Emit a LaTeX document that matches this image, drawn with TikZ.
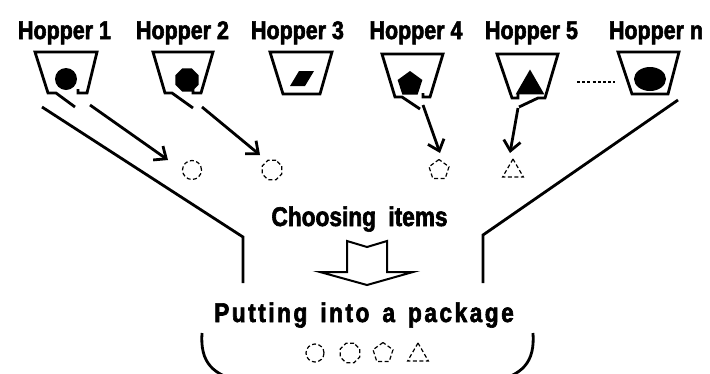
\documentclass[tikz,border=0pt]{standalone}
\usepackage{fontspec}
\newfontfamily\lblfont{Liberation Sans}[FakeStretch=0.84,FakeBold=2.2]
\usetikzlibrary{arrows.meta,shapes.geometric}
\newcommand\lsp{\kern2.5pt}

\begin{document}
\begin{tikzpicture}[x=1pt,y=-1pt,
  hopper/.style={line width=2.8pt, line join=miter},
  chute/.style={line width=2.8pt},
  feed/.style={line width=2.8pt, -{Straight Barb[length=10pt,width=17pt,line width=2.8pt]}},
  solid item/.style={fill=black, draw=none, inner sep=0pt},
  item/.style={draw, line width=1.2pt, dash pattern=on 4pt off 2.5pt, inner sep=0pt, minimum size=18pt},
  title/.style={font=\lblfont\bfseries\fontsize{25.5}{28}\selectfont, anchor=base, inner sep=0pt},
  stage/.style={font=\lblfont\bfseries\fontsize{27}{30}\selectfont, anchor=base, inner sep=0pt}]
\useasboundingbox (0,0) rectangle (710,373);

% hopper labels
\node[title] (t1) at (64.5,39) {Hopper 1};
\node[title] (t2) at (182.5,39) {Hopper 2};
\node[title] (t3) at (297.5,39) {Hopper 3};
\node[title] (t4) at (416,39) {Hopper 4};
\node[title] (t5) at (531.5,39) {Hopper 5};
\node[title] (tn) at (656,39) {Hopper n};

% hopper 1 (gate open)
\draw[hopper] (75,107) -- (56,93) -- (48,93) -- (35,52) -- (97,52) -- (87,93) -- (78,93) -- (78,89);
\node[solid item, circle, minimum size=22pt] (p1) at (66,79) {};
% hopper 2 (gate open)
\draw[hopper] (193,108) -- (172,93) -- (165,93) -- (153,52) -- (213,52) -- (201,93) -- (193,93) -- (193,89);
\node[solid item, regular polygon, regular polygon sides=8, minimum size=25pt] (p2) at (187,80) {};
% hopper 3 (closed)
\draw[hopper] (283,94) -- (270,52) -- (332,52) -- (320,94) -- cycle;
\fill (290,86) -- (299,71) -- (314,71) -- (305,86) -- cycle;
% hopper 4 (gate open)
\draw[hopper] (420,109) -- (402,97) -- (395,97) -- (382,54) -- (443,54) -- (430,97) -- (423,97) -- (423,93);
\node[solid item, regular polygon, regular polygon sides=5, minimum size=26pt] (p4) at (410,84) {};
% hopper 5 (gate open)
\draw[hopper] (519,107) -- (538,98) -- (545,98) -- (558,54) -- (497,54) -- (512,98) -- (518,98) -- (518,94);
\node[solid item, regular polygon, regular polygon sides=3, minimum size=33pt] (p5) at (530,86) {};
% hopper n (closed)
\draw[hopper] (632,94) -- (618,52) -- (679,52) -- (668,94) -- cycle;
\node[solid item, ellipse, minimum width=32pt, minimum height=24pt] (pn) at (650,79) {};
% dotted run of further hoppers
\coordinate (d1) at (577,82);
\coordinate (d2) at (615,82);
\draw[line width=2.8pt, dash pattern=on 3pt off 2.2pt] (d1) -- (d2);

% chosen items on their way
\node[item, circle, minimum size=19pt] (c1) at (192,170) {};
\node[item, regular polygon, regular polygon sides=8, minimum size=21pt] (c2) at (272,170) {};
\node[item, regular polygon, regular polygon sides=5, minimum size=21pt] (c4) at (439,170) {};
\node[item, regular polygon, regular polygon sides=3, minimum size=24pt] (c5) at (513,171) {};

\coordinate (a1s) at (90,105);  \coordinate (a1e) at (168,160);
\coordinate (a2s) at (202,107); \coordinate (a2e) at (260,155);
\coordinate (a4s) at (423,105); \coordinate (a4e) at (440,153);
\coordinate (a5s) at (518,108); \coordinate (a5e) at (510,153);
\draw[feed] (a1s) -- (a1e);
\draw[feed] (a2s) -- (a2e);
\draw[feed] (a4s) -- (a4e);
\draw[feed] (a5s) -- (a5e);

% collecting chute
\coordinate (l0) at (42,107);  \coordinate (l1) at (243,237); \coordinate (l2) at (243,283);
\coordinate (r0) at (678,100); \coordinate (r1) at (483,235); \coordinate (r2) at (483,283);
\draw[chute, line join=miter] (l0) -- (l1) -- (l2);
\draw[chute, line join=miter] (r0) -- (r1) -- (r2);

% stages
\node[stage] (choose) at (359.5,226) {Choosing\hspace{6pt} items};
\draw[line width=2pt, line join=miter] (347,241) -- (367,247) -- (387,241) -- (387,272) -- (413,272)
  -- (367,285) -- (320,272) -- (347,272) -- cycle;
\node[stage] (put) at (364,322)
  {P\lsp u\lsp t\lsp t\lsp i\lsp n\lsp g\hspace{13pt}i\lsp n\lsp t\lsp o\hspace{13pt}a\hspace{13pt}p\lsp a\lsp c\lsp k\lsp a\lsp g\lsp e};

% package
\draw[chute] (202,333) .. controls (200,362) and (212,376) .. (245,382) -- (490,382)
  .. controls (523,376) and (535,362) .. (533,333);
\node[item, circle, minimum size=18pt] (b1) at (315,353) {};
\node[item, regular polygon, regular polygon sides=8, minimum size=21pt] (b2) at (350,353) {};
\node[item, regular polygon, regular polygon sides=5, minimum size=21pt] (b3) at (383,353) {};
\node[item, regular polygon, regular polygon sides=3, minimum size=24pt] (b4) at (418,355) {};
\end{tikzpicture}
\end{document}
